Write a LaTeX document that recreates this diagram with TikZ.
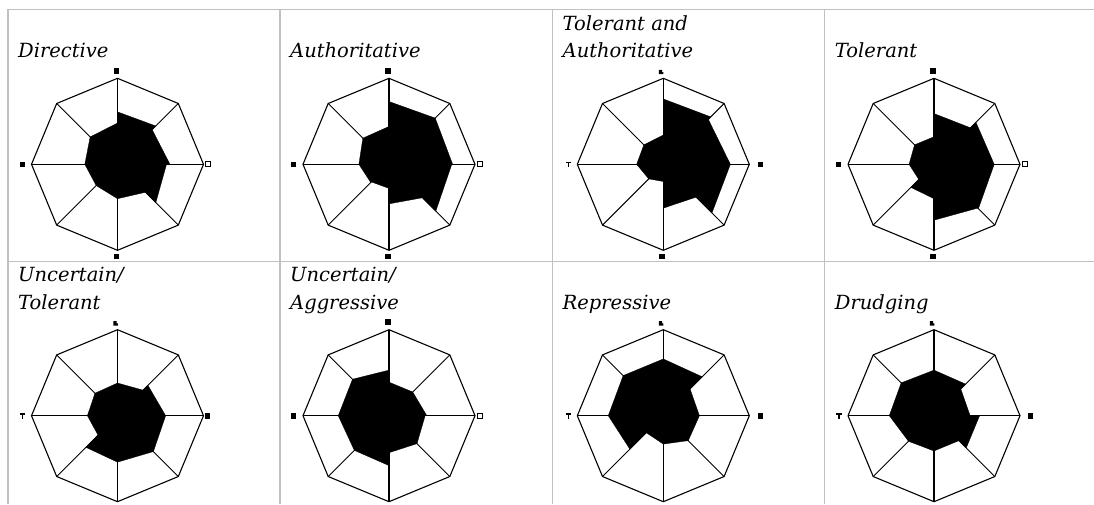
\documentclass[tikz,border=0pt]{standalone}
\usepackage{fontspec}
\newfontfamily\labfont{DejaVu Serif}
\definecolor{gridgray}{RGB}{192,192,192}
\tikzset{
  gridline/.style={draw=gridgray, line width=1.5pt},
  spoke/.style={draw=black, line width=0.9pt},
  vspoke/.style={draw=black, line width=1.6pt},
  outline/.style={draw=black, line width=1.1pt, line join=round},
  lab/.style={anchor=base west, inner sep=0pt, font=\labfont\itshape\fontsize{19.5}{24}\selectfont},
}
\newcommand{\radarchart}[3]{%
  \foreach \va/\vb [count=\i] in {#3} {
    \pgfmathsetmacro\tha{90-45*(\i-1)}
    \pgfmathsetmacro\thb{90-45*\i}
    \filldraw[black, line width=0.3pt] (#1,#2) -- ({#1+\va*86*cos(\tha)},{#2-\va*86*sin(\tha)}) -- ({#1+\vb*86*cos(\thb)},{#2-\vb*86*sin(\thb)}) -- cycle;
  }
  \foreach \k in {0,...,7} \draw[spoke] (#1,#2) -- ({#1+86*cos(45*\k)},{#2-86*sin(45*\k)});
  \draw[vspoke] (#1,{#2-86}) -- (#1,{#2+86});
  \draw[outline] ({#1+86},#2) \foreach \k in {1,...,7}{ -- ({#1+86*cos(45*\k)},{#2-86*sin(45*\k)})} -- cycle;
}
\newcommand{\fsq}[2]{\fill[black] ({#1-2.8},{#2-2.8}) rectangle ({#1+2.8},{#2+2.8});}
\newcommand{\hsq}[2]{\filldraw[fill=white, draw=black, line width=1pt] ({#1-2.4},{#2-2.4}) rectangle ({#1+2.4},{#2+2.4});}
\newcommand{\tmark}[2]{\draw[black, line width=1.2pt] ({#1-2.6},{#2-2.2}) -- ({#1+2.6},{#2-2.2}) ({#1},{#2-2.2}) -- ({#1},{#2+2.6});}
\newcommand{\lmark}[2]{\fill[black] ({#1-2.2},{#2-2.2}) -- ({#1+1},{#2-2.2}) -- ({#1+1},{#2}) -- ({#1+2.4},{#2}) -- ({#1+2.4},{#2+2.2}) -- ({#1-2.2},{#2+2.2}) -- cycle;}
\begin{document}
\begin{tikzpicture}[x=1pt, y=-1pt]
\useasboundingbox (0,0) rectangle (1094,504);
\fill[white] (0,0) rectangle (1094,504);
% grid
\draw[gridline] (8,9.3) -- (1094,9.3);
\draw[gridline] (8,261.3) -- (1094,261.3);
\foreach \gx in {8,280,552.5,824.7} \draw[gridline] (\gx,9.3) -- (\gx,504);
% labels
\node[lab] (l1) at (18,57.8) {Directive};
\node[lab] (l2) at (290,57.8) {Authoritative};
\node[lab] (l3a) at (562.5,30) {Tolerant and};
\node[lab] (l3b) at (562.5,57.8) {Authoritative};
\node[lab] (l4) at (834.7,57.8) {Tolerant};
\node[lab] (l5a) at (18,281) {Uncertain/};
\node[lab] (l5b) at (18,309.5) {Tolerant};
\node[lab] (l6a) at (290,281) {Uncertain/};
\node[lab] (l6b) at (290,309.5) {Aggressive};
\node[lab] (l7) at (562.5,309.5) {Repressive};
\node[lab] (l8) at (834.7,309.5) {Drudging};
% charts row 1
\radarchart{117.5}{164.3}{.61/.63,.57/.61,.57/.63,.46/.40,.40/.35,.35/.38,.38/.45,.45/.48}
\radarchart{389}{164.3}{.73/.76,.76/.74,.73/.77,.55/.46,.28/.29,.30/.35,.35/.43,.43/.44}
\radarchart{663.3}{164.3}{.76/.78,.74/.78,.78/.80,.54/.51,.20/.24,.24/.31,.31/.32,.32/.34}
\radarchart{934}{164.3}{.59/.60,.69/.70,.70/.73,.72/.65,.40/.38,.25/.29,.29/.32,.32/.32}
% charts row 2
\radarchart{117.5}{415.7}{.38/.42,.50/.56,.56/.59,.59/.54,.54/.52,.32/.35,.35/.37,.37/.38}
\radarchart{389}{415.7}{.39/.39,.39/.44,.42/.46,.46/.43,.58/.57,.57/.59,.59/.60,.60/.53}
\radarchart{663.3}{415.7}{.66/.64,.44/.42,.42/.41,.41/.33,.33/.28,.55/.64,.64/.66,.66/.66}
\radarchart{934}{415.7}{.53/.52,.44/.42,.53/.53,.41/.41,.41/.42,.42/.52,.52/.54,.54/.53}
% markers row 1
\fsq{116.3}{70.8} \fsq{22.5}{164.3} \hsq{208.3}{164.3} \fsq{116.3}{256.3}
\fsq{387.8}{70.8} \fsq{293.5}{164.3} \hsq{479.8}{164.3} \fsq{387.8}{256.3}
\lmark{661}{72} \tmark{568.3}{164.8} \fsq{760.5}{164.3} \fsq{661.8}{256.3}
\fsq{932.8}{70.8} \fsq{838.5}{164.3} \hsq{1024.8}{164.3} \fsq{932.8}{256.3}
% markers row 2
\lmark{115.5}{323.3} \tmark{22.5}{416.2} \fsq{207.5}{415.7}
\fsq{387.8}{322.2} \fsq{293.5}{415.7} \hsq{479.8}{415.7}
\lmark{661}{323.3} \tmark{568.3}{416.2} \fsq{760.5}{415.7}
\lmark{932}{323.3} \tmark{839}{416.2} \fsq{1030.5}{415.7}
\end{tikzpicture}
\end{document}
